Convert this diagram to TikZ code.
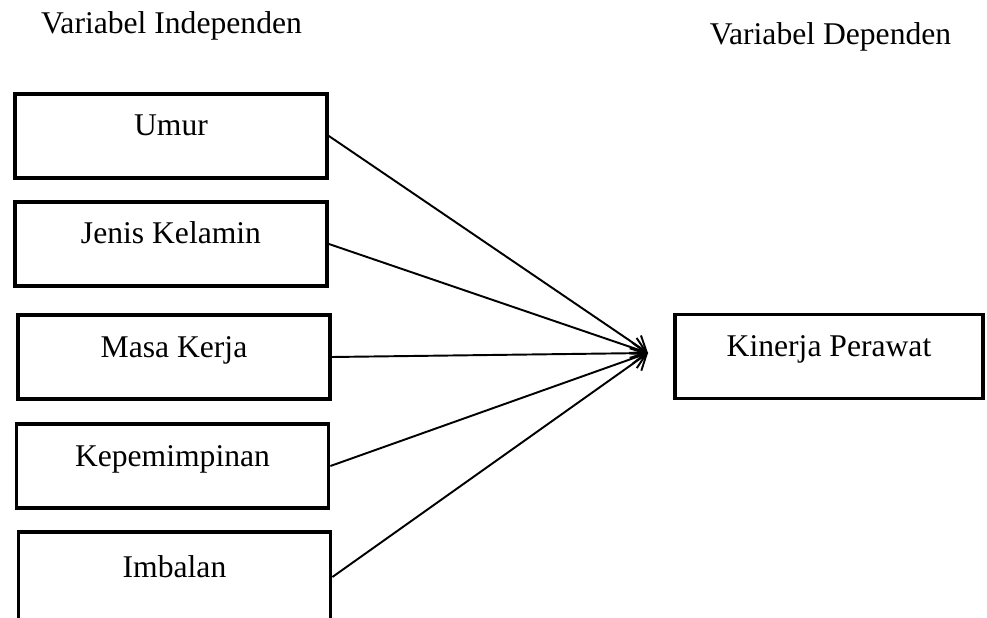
\documentclass[tikz,border=0pt]{standalone}
\usepackage{fontspec}
\setmainfont{Liberation Serif}
\usetikzlibrary{arrows.meta}

\tikzset{
  varbox/.style={draw, line width=2.2pt, minimum width=6.24cm, minimum height=1.68cm,
    inner sep=0pt, text height=10pt, text depth=10pt, font=\fontsize{18}{22}\selectfont},
  judul/.style={anchor=base, inner sep=0pt, font=\fontsize{18}{22}\selectfont},
  pengaruh/.style={line width=1.1pt, -{Straight Barb[length=8pt,width=12pt]}}
}

\begin{document}
\begin{tikzpicture}[x=0.02cm, y=-0.02cm]
    \useasboundingbox (0,0) rectangle (987,618);

    \node[judul] (indep) at (171.5,34) {Variabel Independen};
    \node[judul] (dep) at (830.5,45) {Variabel Dependen};

    \foreach \nama/\teks/\px/\py in {umur/Umur/171/136, jenis/Jenis Kelamin/171/244,
        masa/Masa Kerja/174/357, kepem/Kepemimpinan/172.5/466}{
      \node[varbox] (\nama) at (\px,\py) {\teks};
    }
    \node[varbox, minimum height=1.8cm] (imbalan) at (174.5,577) {Imbalan};

    \node[varbox, minimum width=6.16cm] (kinerja) at (829,356.5) {Kinerja Perawat};

    \coordinate (hub) at (648,353);
    \foreach \nama in {umur, jenis, masa, kepem, imbalan}{
      \draw[pengaruh] (\nama.east) -- (hub);
    }
\end{tikzpicture}
\end{document}
